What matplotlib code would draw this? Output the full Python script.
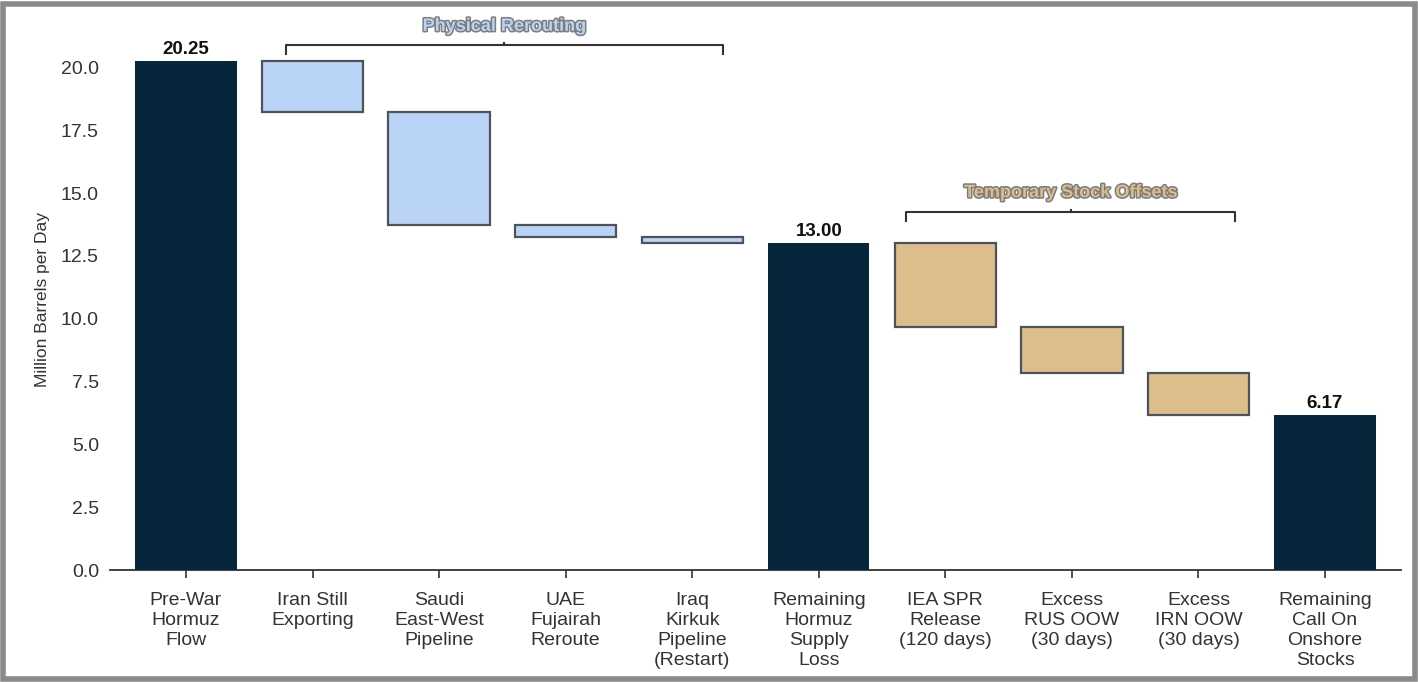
import matplotlib
matplotlib.use("Agg")
import matplotlib.pyplot as plt
import matplotlib.patheffects as pe
from matplotlib.patches import Rectangle
import numpy as np

plt.rcParams['font.family'] = ['Liberation Sans', 'DejaVu Sans']

# waterfall steps (million barrels per day)
labels = ["Pre-War\nHormuz\nFlow", "Iran Still\nExporting", "Saudi\nEast-West\nPipeline",
          "UAE\nFujairah\nReroute", "Iraq\nKirkuk\nPipeline\n(Restart)",
          "Remaining\nHormuz\nSupply\nLoss", "IEA SPR\nRelease\n(120 days)",
          "Excess\nRUS OOW\n(30 days)", "Excess\nIRN OOW\n(30 days)",
          "Remaining\nCall On\nOnshore\nStocks"]
start_flow = 20.25
rerouting = [2.0, 4.5, 0.5, 0.25]
stock_offsets = [3.33, 1.83, 1.67]

NAVY = "#05263b"
BLUE = "#b9d3f6"
TAN = "#dcbe8c"
EDGE = "#4f5256"

# build bottoms / heights
bottoms, heights, colors, kinds = [], [], [], []
level = start_flow
bottoms.append(0); heights.append(level); colors.append(NAVY); kinds.append("total")
for d in rerouting:
    level -= d
    bottoms.append(level); heights.append(d); colors.append(BLUE); kinds.append("step")
bottoms.append(0); heights.append(level); colors.append(NAVY); kinds.append("total")
for d in stock_offsets:
    level -= d
    bottoms.append(level); heights.append(d); colors.append(TAN); kinds.append("step")
bottoms.append(0); heights.append(level); colors.append(NAVY); kinds.append("total")

x = np.arange(len(labels))

fig = plt.figure(figsize=(14.18, 6.82), dpi=100)
ax = fig.add_axes([0.0776, 0.1642, 0.9104, 0.792])

for i in x:
    if kinds[i] == "total":
        ax.bar(i, heights[i], bottom=bottoms[i], width=0.8, color=colors[i], zorder=3)
        ax.text(i, heights[i] + 0.12, f"{heights[i]:.2f}", ha="center", va="bottom",
                fontsize=13.5, fontweight="bold", color="#111111")
    else:
        ax.bar(i, heights[i], bottom=bottoms[i], width=0.8, color=colors[i],
               edgecolor=EDGE, linewidth=1.6, zorder=3)

ax.set_xlim(-0.6, 9.6)
ax.set_ylim(0, 21.5)
ax.set_yticks(np.arange(0, 20.1, 2.5))
ax.set_yticklabels([f"{v:.1f}" for v in np.arange(0, 20.1, 2.5)])
ax.set_xticks(x)
ax.set_xticklabels(labels, linespacing=1.22)
ax.tick_params(axis="y", length=0, pad=8, labelsize=14, labelcolor="#333333")
ax.tick_params(axis="x", length=6, width=1.2, color="#333333", pad=10,
               labelsize=14, labelcolor="#333333")
for s in ["top", "right", "left"]:
    ax.spines[s].set_visible(False)
ax.spines["bottom"].set_color("#333333")
ax.spines["bottom"].set_linewidth(1.3)
ax.set_ylabel("Million Barrels per Day", fontsize=12.5, color="#333333", labelpad=8)


def bracket(x0, x1, y, text, fill, leg=0.35):
    xs = [x0, x0, x1, x1]
    ys = [y - leg, y, y, y - leg]
    ax.plot(xs, ys, color="#333333", lw=1.5, clip_on=False, zorder=4)
    xm = (x0 + x1) / 2
    ax.plot([xm, xm], [y, y + 0.08], color="#333333", lw=1.5, clip_on=False)
    ax.text(xm, y + 0.42, text, ha="center", va="bottom", fontsize=13,
            fontweight="bold", color=fill, clip_on=False,
            path_effects=[pe.withStroke(linewidth=2.2, foreground="#7d7d7d")])


bracket(0.79, 4.24, 20.88, "Physical Rerouting", BLUE)
bracket(5.69, 8.29, 14.26, "Temporary Stock Offsets", TAN)

# outer frame
fig.patches.append(Rectangle((0.002, 0.004), 0.996, 0.99, transform=fig.transFigure,
                             fill=False, edgecolor="#8a8a8a", linewidth=4))

fig.savefig("out.png", dpi=100)
